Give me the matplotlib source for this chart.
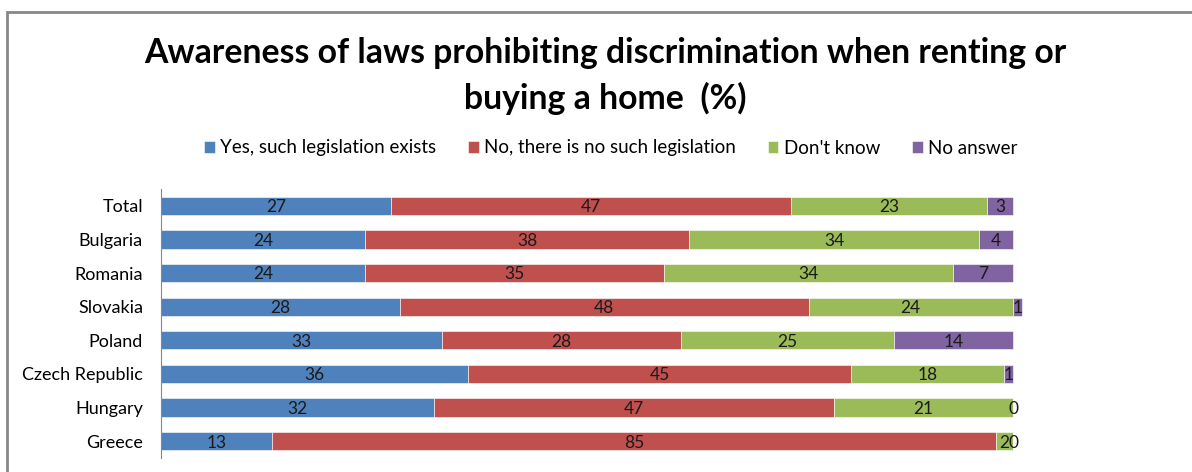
import matplotlib.pyplot as plt
import numpy as np
from matplotlib.patches import Rectangle

plt.rcParams['font.family'] = ['Lato', 'DejaVu Sans']

countries = ['Total', 'Bulgaria', 'Romania', 'Slovakia', 'Poland', 'Czech Republic', 'Hungary', 'Greece']
yes_exists = [27, 24, 24, 28, 33, 36, 32, 13]
no_such = [47, 38, 35, 48, 28, 45, 47, 85]
dont_know = [23, 34, 34, 24, 25, 18, 21, 2]
no_answer = [3, 4, 7, 1, 14, 1, 0, 0]

series = [
    ('Yes, such legislation exists', yes_exists, '#4F81BD'),
    ('No, there is no such legislation', no_such, '#C0504D'),
    ("Don't know", dont_know, '#9BBB59'),
    ('No answer', no_answer, '#8064A2'),
]

fig = plt.figure(figsize=(11.92, 4.72), dpi=100)
ax = fig.add_axes([161/1192, 14/472, 852/1192, 269/472])

y = np.arange(len(countries))
left = np.zeros(len(countries))
for name, vals, color in series:
    vals = np.array(vals, dtype=float)
    bars = ax.barh(y, vals, 0.54, left=left, color=color, label=name,
                   edgecolor='white', linewidth=0.4, clip_on=False)
    for yi, l, v in zip(y, left, vals):
        ax.text(l + v / 2, yi + 0.04, '{}'.format(int(v)), ha='center', va='center',
                fontsize=12.5, color='#1a1a1a', clip_on=False)
    left += vals

ax.set_xlim(0, 100)
ax.set_ylim(len(countries) - 0.5, -0.5)
ax.set_yticks(y)
ax.set_yticklabels(countries, fontsize=13)
ax.tick_params(axis='y', length=0, pad=13)
ax.set_xticks([])
for s in ['top', 'right', 'bottom']:
    ax.spines[s].set_visible(False)
ax.spines['left'].set_color('#888888')
ax.spines['left'].set_linewidth(0.8)

fig.text(0.508, 1 - 76/472, 'Awareness of laws prohibiting discrimination when renting or\nbuying a home  (%)',
         ha='center', va='center', fontsize=24.3, fontweight='bold', linespacing=1.45)

fig.legend(loc='center', bbox_to_anchor=(611/1192, 1 - 148/472), ncol=4, frameon=False,
           fontsize=13.5, handlelength=0.55, handleheight=0.55, handletextpad=0.3,
           columnspacing=1.7)

fig.patches.append(Rectangle((7/1192, -0.1), 1.2, 1 - 12/472 + 0.1, transform=fig.transFigure,
                             fill=False, edgecolor='#888888', linewidth=2))

fig.savefig('out.png', dpi=100)
